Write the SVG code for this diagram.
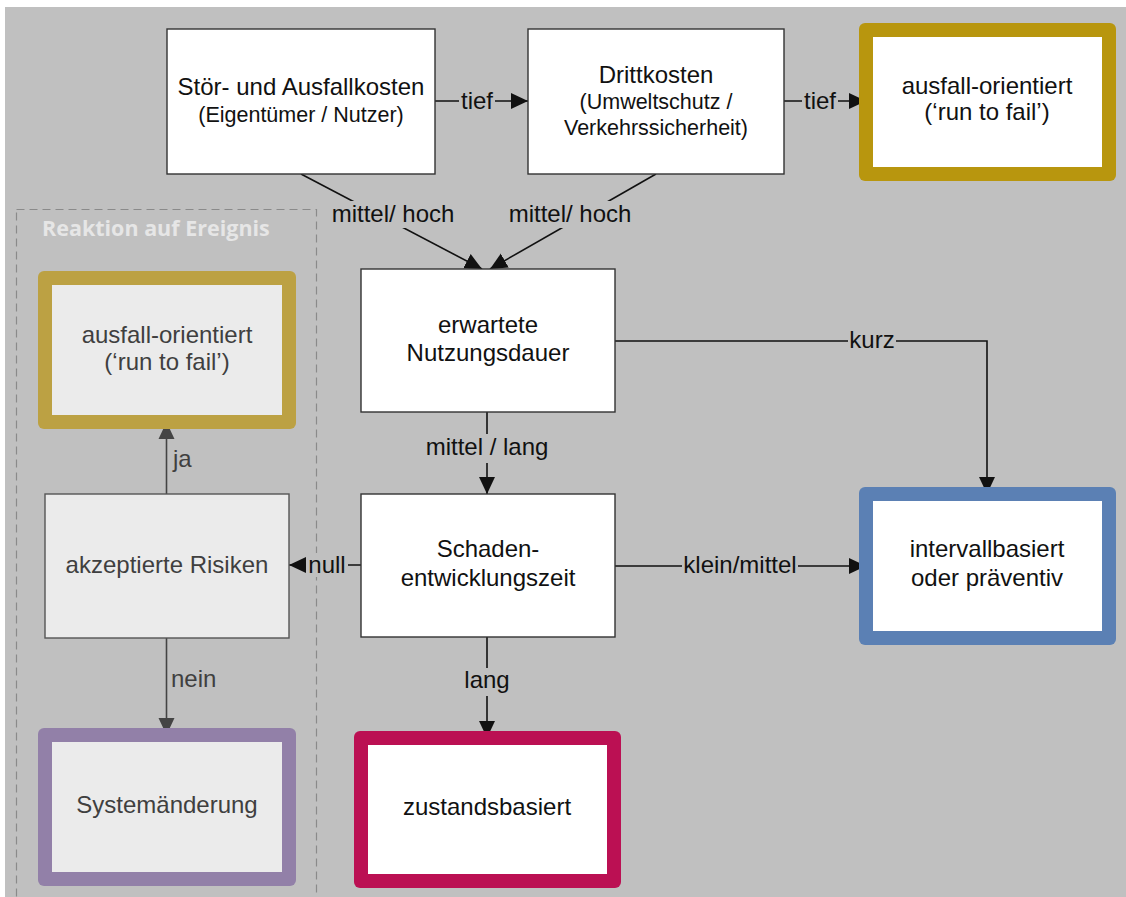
<svg xmlns="http://www.w3.org/2000/svg" width="1126" height="897" viewBox="0 0 1126 897">
<defs>
<style>
.t{font-family:"Liberation Sans",Arial,sans-serif;font-size:24px;fill:#111;text-anchor:middle}
.s{font-family:"Liberation Sans",Arial,sans-serif;font-size:21.5px;fill:#111;text-anchor:middle}
.f{fill:#3f3f3f}
.box{fill:#fff;stroke:#333;stroke-width:1.4}
.fbox{fill:#ebebeb;stroke:#555;stroke-width:1.4}
.ln{fill:none;stroke:#111;stroke-width:1.6}
.lnf{fill:none;stroke:#444;stroke-width:1.6}
.lbg{fill:#c0c0c0}
</style>
<marker id="ah" markerWidth="17" markerHeight="17" refX="17" refY="8.5" orient="auto" markerUnits="userSpaceOnUse"><path d="M0,0.5 L17,8.5 L0,16.5 z" fill="#111"/></marker>
<marker id="ahf" markerWidth="17" markerHeight="17" refX="17" refY="8.5" orient="auto" markerUnits="userSpaceOnUse"><path d="M0,0.5 L17,8.5 L0,16.5 z" fill="#444"/></marker>
</defs>
<rect x="5" y="7" width="1121" height="890" fill="#c0c0c0"/>
<g id="group-reaktion">
<rect x="16.5" y="209.5" width="300" height="700" fill="none" stroke="#8a8a8a" stroke-width="1.2" stroke-dasharray="8,5"/>
<text x="42" y="236" style="font-family:'Open Sans','DejaVu Sans',sans-serif;font-weight:bold;font-size:21.5px;fill:#e6e6e6">Reaktion auf Ereignis</text>
</g>
<g id="connectors">
<line class="ln" x1="435" y1="101" x2="528" y2="101" marker-end="url(#ah)"/>
<line class="ln" x1="784" y1="101" x2="866" y2="101" marker-end="url(#ah)"/>
<line class="ln" x1="301" y1="174" x2="482" y2="269" marker-end="url(#ah)"/>
<line class="ln" x1="656" y1="174" x2="490" y2="269" marker-end="url(#ah)"/>
<line class="ln" x1="487" y1="412" x2="487" y2="494" marker-end="url(#ah)"/>
<path class="ln" d="M615,341 H987 V494" marker-end="url(#ah)"/>
<line class="ln" x1="615" y1="566" x2="866" y2="566" marker-end="url(#ah)"/>
<line class="ln" x1="361" y1="565" x2="289" y2="565" marker-end="url(#ah)"/>
<line class="ln" x1="487" y1="637" x2="487" y2="738" marker-end="url(#ah)"/>
<line class="lnf" x1="166.5" y1="638" x2="166.5" y2="735" marker-end="url(#ahf)"/>
<line class="lnf" x1="166.5" y1="494" x2="166.5" y2="422" marker-end="url(#ahf)"/>
<rect class="lbg" x="459" y="88" width="36" height="26"/>
<text class="t" x="477" y="109">tief</text>
<rect class="lbg" x="802" y="88" width="36" height="26"/>
<text class="t" x="820" y="109">tief</text>
<rect class="lbg" x="330" y="201" width="127" height="27"/>
<text class="t" x="393" y="222">mittel/ hoch</text>
<rect class="lbg" x="507" y="201" width="127" height="27"/>
<text class="t" x="570" y="222">mittel/ hoch</text>
<rect class="lbg" x="422" y="434" width="130" height="29"/>
<text class="t" x="487" y="455">mittel / lang</text>
<rect class="lbg" x="848" y="329" width="48" height="24"/>
<text class="t" x="872" y="348">kurz</text>
<rect class="lbg" x="682" y="554" width="116" height="24"/>
<text class="t" x="740" y="573">klein/mittel</text>
<rect class="lbg" x="306" y="553" width="42" height="24"/>
<text class="t" x="327" y="573">null</text>
<rect class="lbg" x="462" y="668" width="50" height="28"/>
<text class="t" x="487" y="688">lang</text>
<text class="t f" x="171" y="687" style="text-anchor:start">nein</text>
<text class="t f" x="173" y="467" style="text-anchor:start">ja</text>
</g>
<g id="n-stoer">
<rect class="box" x="167" y="29" width="268" height="145"/>
<text class="t" x="301" y="95">Stör- und Ausfallkosten</text>
<text class="s" x="301" y="122">(Eigentümer / Nutzer)</text>
</g>
<g id="n-dritt">
<rect class="box" x="528" y="29" width="256" height="145"/>
<text class="t" x="656" y="83">Drittkosten</text>
<text class="s" x="656" y="109">(Umweltschutz /</text>
<text class="s" x="656" y="135">Verkehrssicherheit)</text>
</g>
<g id="n-ausfall-top">
<rect x="859" y="23" width="257" height="158" rx="6" fill="#b8960e"/>
<rect x="873" y="37" width="229" height="130" fill="#fff"/>
<text class="t" x="987" y="94">ausfall-orientiert</text>
<text class="t" x="987" y="120">(‘run to fail’)</text>
</g>
<g id="n-nutzung">
<rect class="box" x="361" y="269" width="254" height="143"/>
<text class="t" x="488" y="333">erwartete</text>
<text class="t" x="488" y="361">Nutzungsdauer</text>
</g>
<g id="n-schaden">
<rect class="box" x="361" y="494" width="254" height="143"/>
<text class="t" x="488" y="557">Schaden-</text>
<text class="t" x="488" y="586">entwicklungszeit</text>
</g>
<g id="n-intervall">
<rect x="859" y="487" width="257" height="158" rx="6" fill="#5b80b4"/>
<rect x="873" y="501" width="229" height="130" fill="#fff"/>
<text class="t" x="987" y="557">intervallbasiert</text>
<text class="t" x="987" y="586">oder präventiv</text>
</g>
<g id="n-zustand">
<rect x="354" y="731" width="267" height="157" rx="6" fill="#bb1053"/>
<rect x="368" y="745" width="239" height="129" fill="#fff"/>
<text class="t" x="487" y="815">zustandsbasiert</text>
</g>
<g id="n-ausfall-left">
<rect x="38" y="271" width="258" height="158" rx="6" fill="#bca143"/>
<rect x="52" y="285" width="230" height="130" fill="#ebebeb"/>
<text class="t f" x="167" y="343">ausfall-orientiert</text>
<text class="t f" x="167" y="370">(‘run to fail’)</text>
</g>
<g id="n-risiken">
<rect class="fbox" x="45" y="494" width="244" height="144"/>
<text class="t f" x="167" y="573">akzeptierte Risiken</text>
</g>
<g id="n-system">
<rect x="38" y="728" width="258" height="158" rx="6" fill="#9280a8"/>
<rect x="52" y="742" width="230" height="130" fill="#ebebeb"/>
<text class="t f" x="167" y="813">Systemänderung</text>
</g>
</svg>
